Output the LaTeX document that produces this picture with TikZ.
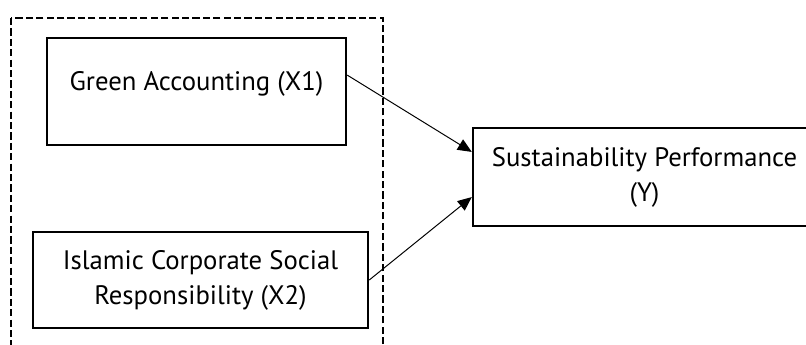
\documentclass[tikz,border=0pt]{standalone}
\usepackage{fontspec}
\setmainfont{PT Sans}
\usetikzlibrary{arrows.meta,calc}

\begin{document}
\begin{tikzpicture}[
  x=0.025cm, y=-0.025cm,
  font=\fontsize{19}{25}\selectfont,
  varbox/.style={draw,line width=1.7pt,inner sep=0pt,align=center},
  frame/.style={draw,line width=1.4pt,dash pattern=on 0.18cm off 0.08cm},
  link/.style={-{Triangle[length=3.5mm,width=3mm]},line width=0.7pt}
]
  \useasboundingbox (0,0) rectangle (806,344);
  \clip (0,0) rectangle (806,344);

  \draw[frame] (11,18) rectangle (383,380);

  \node[varbox,minimum width=7.475cm,minimum height=2.675cm,
    text height=0.45cm,text depth=0.525cm] (green) at (196.5,91.5) {Green Accounting (X1)};
  \node[varbox,minimum width=8.375cm,minimum height=2.4cm] (icsr) at (200.5,280)
    {Islamic Corporate Social\\Responsibility (X2)};
  \node[varbox,minimum width=8.575cm,minimum height=2.45cm] (perf) at (644.5,177)
    {Sustainability Performance\\(Y)};

  \draw[link] ($(green.north east)!0.35!(green.south east)$) -- ($(perf.north west)!0.25!(perf.south west)$);
  \draw[link] (icsr.east) -- ($(perf.north west)!0.7!(perf.south west)$);
\end{tikzpicture}
\end{document}
